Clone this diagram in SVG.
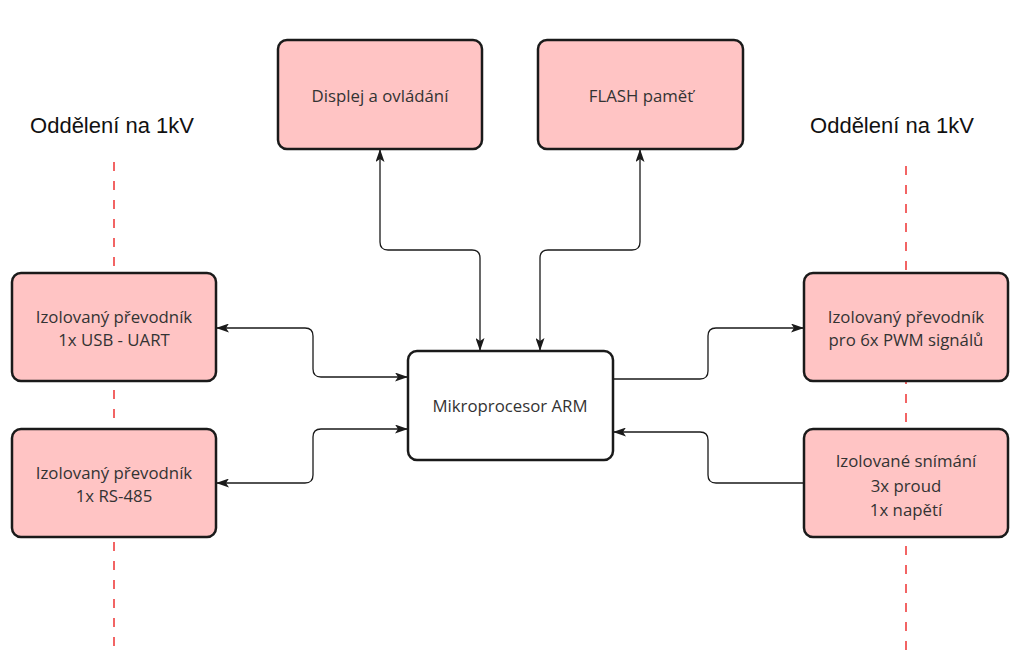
<svg xmlns="http://www.w3.org/2000/svg" width="1019" height="650" viewBox="0 0 1019 650">
<style>
.box{fill:#ffc4c4;stroke:#1a1a1a;stroke-width:2.5}
.wbox{fill:#ffffff;stroke:#1a1a1a;stroke-width:2.5}
.t{font-family:"Open Sans","Noto Sans",sans-serif;font-size:16.8px;fill:#333333;text-anchor:middle}
.h{font-family:"Liberation Sans",Arial,sans-serif;font-size:22px;fill:#111111;text-anchor:middle}
.c{fill:none;stroke:#1a1a1a;stroke-width:1.3}
.d{stroke:#f26464;stroke-width:2;stroke-dasharray:9 10;fill:none}
</style>
<defs>
<marker id="ah" viewBox="0 0 13 9" refX="13" refY="4.5" markerWidth="13" markerHeight="9" markerUnits="userSpaceOnUse" orient="auto-start-reverse">
<path d="M0,0 L13,4.5 L0,9 L3,4.5 z" fill="#1a1a1a"/>
</marker>
</defs>
<rect width="1019" height="650" fill="#ffffff"/>
<g id="separators">
<line class="d" x1="114" y1="162" x2="114" y2="650"/>
<line class="d" x1="906" y1="166" x2="906" y2="650"/>
<text class="h" x="112" y="133">Oddělení na 1kV</text>
<text class="h" x="892" y="133">Oddělení na 1kV</text>
</g>
<g id="connectors">
<path class="c" d="M216,328 H305 Q313,328 313,336 V369 Q313,377 321,377 H408" marker-start="url(#ah)" marker-end="url(#ah)"/>
<path class="c" d="M216,483 H305 Q313,483 313,475 V437 Q313,429 321,429 H408" marker-start="url(#ah)" marker-end="url(#ah)"/>
<path class="c" d="M613,379 H700 Q708,379 708,371 V336 Q708,328 716,328 H804" marker-end="url(#ah)"/>
<path class="c" d="M804,483 H716 Q708,483 708,475 V440 Q708,432 700,432 H613" marker-end="url(#ah)"/>
<path class="c" d="M380,149 V242 Q380,250 388,250 H472 Q480,250 480,258 V351" marker-start="url(#ah)" marker-end="url(#ah)"/>
<path class="c" d="M640,149 V242 Q640,250 632,250 H548 Q540,250 540,258 V351" marker-start="url(#ah)" marker-end="url(#ah)"/>
</g>
<g id="displej">
<rect class="box" x="278" y="40" width="204" height="109" rx="9"/>
<text class="t" x="380" y="102">Displej a ovládání</text>
</g>
<g id="flash">
<rect class="box" x="538" y="40" width="205" height="109" rx="9"/>
<text class="t" x="641" y="102">FLASH paměť</text>
</g>
<g id="usb">
<rect class="box" x="12" y="273" width="204" height="108" rx="9"/>
<text class="t" x="114" y="323">Izolovaný převodník</text>
<text class="t" x="114" y="346">1x USB - UART</text>
</g>
<g id="rs485">
<rect class="box" x="12" y="429" width="204" height="108" rx="9"/>
<text class="t" x="114" y="479">Izolovaný převodník</text>
<text class="t" x="114" y="502">1x RS-485</text>
</g>
<g id="arm">
<rect class="wbox" x="408" y="351" width="205" height="109" rx="9"/>
<text class="t" x="510" y="412">Mikroprocesor ARM</text>
</g>
<g id="pwm">
<rect class="box" x="804" y="273" width="204" height="108" rx="9"/>
<text class="t" x="906" y="323">Izolovaný převodník</text>
<text class="t" x="906" y="346">pro 6x PWM signálů</text>
</g>
<g id="snimani">
<rect class="box" x="804" y="429" width="204" height="108" rx="9"/>
<text class="t" x="906" y="467">Izolované snímání</text>
<text class="t" x="906" y="492">3x proud</text>
<text class="t" x="906" y="516">1x napětí</text>
</g>
</svg>
